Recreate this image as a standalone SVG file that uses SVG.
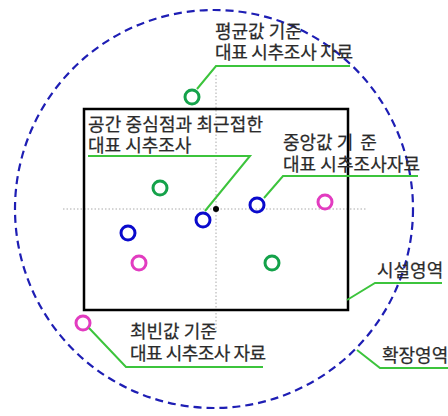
<svg xmlns="http://www.w3.org/2000/svg" width="448" height="416" viewBox="0 0 448 416">
<style>
.lbl{font-family:"Noto Sans CJK KR","Noto Sans",sans-serif;font-size:18px;fill:#2b2b2b;stroke:#2b2b2b;stroke-width:0.25}
.lead{fill:none;stroke:#3cc43c;stroke-width:2}
.ring{fill:none;stroke-width:3}
.g{stroke:#14a24a}.b{stroke:#0a0acc}.p{stroke:#e23cc0}
.axis{stroke:#aaa;stroke-width:1;stroke-dasharray:1.5 2}
</style>
<rect width="448" height="416" fill="#fff"/>
<g id="extended-area">
<circle cx="214" cy="209" r="199" fill="none" stroke="#1e1eb4" stroke-width="2.2" stroke-dasharray="8 5"/>
</g>
<g id="axes">
<line class="axis" x1="216" y1="75" x2="216" y2="333"/>
<line class="axis" x1="63" y1="209" x2="367" y2="209"/>
</g>
<g id="facility-area">
<rect x="84" y="109" width="264" height="201" fill="none" stroke="#000" stroke-width="2.5"/>
</g>
<g id="center-point"><circle cx="216" cy="209" r="3" fill="#000"/></g>
<g id="samples">
<circle class="ring g" cx="192" cy="97" r="7"/>
<circle class="ring g" cx="160" cy="188" r="7"/>
<circle class="ring b" cx="203" cy="220" r="7"/>
<circle class="ring b" cx="257" cy="205" r="7"/>
<circle class="ring p" cx="325" cy="202" r="7"/>
<circle class="ring b" cx="128" cy="233" r="7"/>
<circle class="ring p" cx="139" cy="263" r="7"/>
<circle class="ring g" cx="272" cy="263" r="7"/>
<circle class="ring p" cx="83" cy="323" r="7"/>
</g>
<g id="connectors">
<polyline class="lead" points="197,89 216,66 350,66"/>
<polyline class="lead" points="88,156 250,156 205,211"/>
<polyline class="lead" points="264,198 283,176 418,176"/>
<polyline class="lead" points="347,300 375,283 442,283"/>
<polyline class="lead" points="357,350 380,368 448,368"/>
<polyline class="lead" points="89,328 126,367 263,367"/>
</g>
<g id="label-mean">
<text class="lbl"><tspan x="215" y="38">평균값 기준</tspan><tspan x="215" y="59" textLength="138">대표 시추조사 자료</tspan></text>
</g>
<g id="label-nearest">
<text class="lbl"><tspan x="88" y="131" textLength="175">공간 중심점과 최근접한</tspan><tspan x="88" y="152">대표 시추조사</tspan></text>
</g>
<g id="label-median">
<text class="lbl"><tspan x="283" y="149">중앙값 기</tspan><tspan dx="7">준</tspan><tspan x="283" y="171" textLength="137">대표 시추조사자료</tspan></text>
</g>
<g id="label-mode">
<text class="lbl"><tspan x="130" y="338">최빈값 기준</tspan><tspan x="130" y="360" textLength="136">대표 시추조사 자료</tspan></text>
</g>
<g id="label-facility"><text class="lbl" x="377" y="277">시설영역</text></g>
<g id="label-extended"><text class="lbl" x="382" y="362">확장영역</text></g>
</svg>
